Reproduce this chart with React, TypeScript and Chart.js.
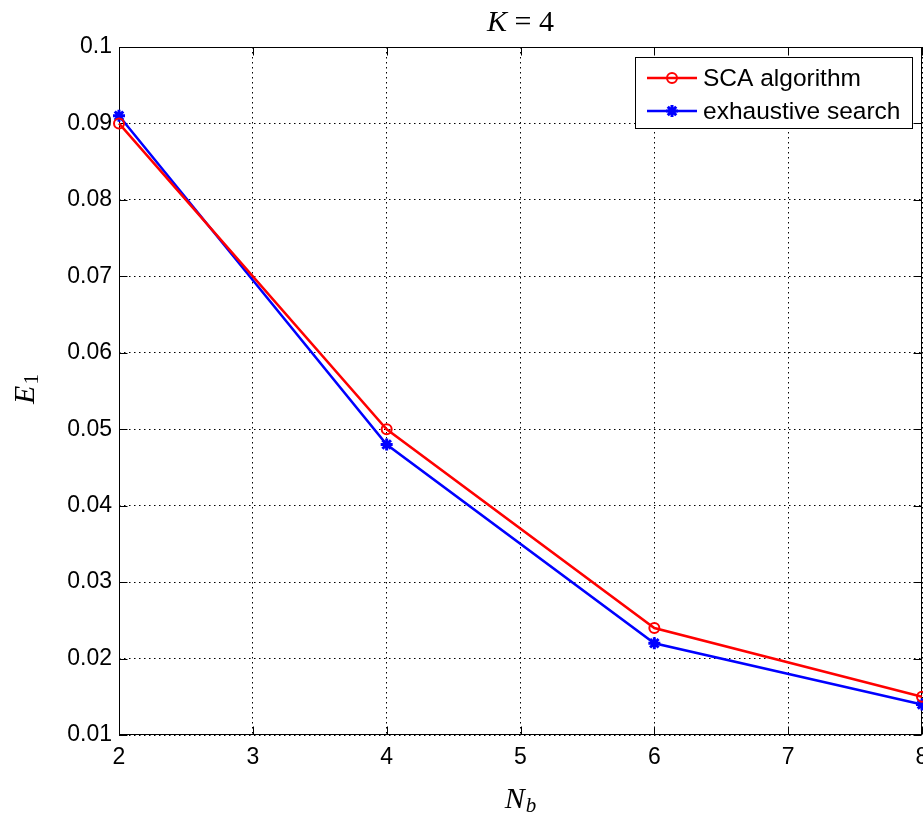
import { useEffect, useRef } from "react";
import { Chart, registerables } from "chart.js";

Chart.register(...registerables);

const xValues = [2, 4, 6, 8];
const scaValues = [0.09, 0.05, 0.024, 0.015];
const exhaustiveValues = [0.091, 0.048, 0.022, 0.014];
const xTicks = [2, 3, 4, 5, 6, 7, 8];
const yTicks = [0.01, 0.02, 0.03, 0.04, 0.05, 0.06, 0.07, 0.08, 0.09, 0.1];
const seriesLabels = ["SCA algorithm", "exhaustive search"];
const seriesColors = ["#ff0000", "#0000ff"];
const seriesMarkers = ["circle", "star"];

const SANS = "'Liberation Sans', Arial, sans-serif";
const SERIF = "'Liberation Serif', 'Times New Roman', serif";

function drawStar(ctx: CanvasRenderingContext2D, x: number, y: number, r: number) {
  ctx.beginPath();
  for (let i = 0; i < 4; i++) {
    const a = (i * Math.PI) / 4;
    ctx.moveTo(x + Math.cos(a) * r, y + Math.sin(a) * r);
    ctx.lineTo(x - Math.cos(a) * r, y - Math.sin(a) * r);
  }
  ctx.stroke();
}

const decorPlugin = {
  id: "decor",
  beforeDatasetsDraw(chart: any) {
    const { ctx, chartArea: a, scales } = chart;
    ctx.save();
    ctx.strokeStyle = "#000";
    ctx.lineWidth = 1;
    ctx.setLineDash([]);
    const L = Math.round(a.left) + 0.5;
    const R = Math.round(a.right) - 0.5;
    const T = Math.round(a.top) + 0.5;
    const B = Math.round(a.bottom) - 0.5;
    ctx.strokeRect(L, T, R - L, B - T);
    const tl = 8;
    ctx.beginPath();
    xTicks.forEach((v) => {
      const px = Math.round(scales.x.getPixelForValue(v)) + 0.5;
      ctx.moveTo(px, B);
      ctx.lineTo(px, B - tl);
      ctx.moveTo(px, T);
      ctx.lineTo(px, T + tl);
    });
    yTicks.forEach((v) => {
      const py = Math.round(scales.y.getPixelForValue(v)) + 0.5;
      ctx.moveTo(L, py);
      ctx.lineTo(L + tl, py);
      ctx.moveTo(R, py);
      ctx.lineTo(R - tl, py);
    });
    ctx.stroke();
    ctx.restore();
  },
  afterDatasetsDraw(chart: any) {
    const { ctx, chartArea: a } = chart;
    ctx.save();
    // Title: K = 4
    ctx.fillStyle = "#000";
    ctx.textBaseline = "middle";
    const cx = (a.left + a.right) / 2;
    ctx.font = `italic 30px ${SERIF}`;
    const wK = ctx.measureText("K").width;
    ctx.font = `30px ${SERIF}`;
    const wRest = ctx.measureText(" = 4").width;
    let x0 = cx - (wK + wRest) / 2;
    ctx.textAlign = "left";
    ctx.font = `italic 30px ${SERIF}`;
    ctx.fillText("K", x0, 23);
    ctx.font = `30px ${SERIF}`;
    ctx.fillText(" = 4", x0 + wK, 23);

    // X label N_b
    ctx.font = `italic 30px ${SERIF}`;
    const wN = ctx.measureText("N").width;
    ctx.font = `italic 21px ${SERIF}`;
    const wb = ctx.measureText("b").width;
    x0 = cx - (wN + wb + 1) / 2;
    ctx.font = `italic 30px ${SERIF}`;
    ctx.fillText("N", x0, 800);
    ctx.font = `italic 21px ${SERIF}`;
    ctx.fillText("b", x0 + wN + 1, 806);

    // Y label E_1
    ctx.save();
    ctx.translate(26, 389);
    ctx.rotate(-Math.PI / 2);
    ctx.font = `italic 30px ${SERIF}`;
    const wE = ctx.measureText("E").width;
    ctx.font = `21px ${SERIF}`;
    const w1 = ctx.measureText("1").width;
    const y0 = -(wE + w1 + 1) / 2;
    ctx.font = `italic 30px ${SERIF}`;
    ctx.fillText("E", y0, 0);
    ctx.font = `21px ${SERIF}`;
    ctx.fillText("1", y0 + wE + 1, 6);
    ctx.restore();

    // Legend
    const bx = 635.5, by = 57.5, bw = 277, bh = 71;
    ctx.fillStyle = "#fff";
    ctx.fillRect(bx, by, bw, bh);
    ctx.strokeStyle = "#000";
    ctx.lineWidth = 1;
    ctx.strokeRect(bx, by, bw, bh);
    const rows = [78, 111];
    seriesLabels.forEach((label, i) => {
      const ry = rows[i];
      ctx.strokeStyle = seriesColors[i];
      ctx.lineWidth = 2.5;
      ctx.beginPath();
      ctx.moveTo(647, ry);
      ctx.lineTo(697, ry);
      ctx.stroke();
      if (seriesMarkers[i] === "circle") {
        ctx.lineWidth = 2;
        ctx.beginPath();
        ctx.arc(672, ry, 5, 0, Math.PI * 2);
        ctx.stroke();
      } else {
        ctx.lineWidth = 3;
        drawStar(ctx, 672, ry, 6);
      }
      ctx.fillStyle = "#000";
      ctx.font = `24.5px ${SANS}`;
      ctx.textAlign = "left";
      ctx.textBaseline = "middle";
      ctx.fillText(label, 703, ry + 1);
    });
    ctx.restore();
  },
};

export default function App() {
  const ref = useRef<HTMLCanvasElement>(null);
  useEffect(() => {
    if (!ref.current) return;
    const chart = new Chart(ref.current, {
      type: "line",
      data: {
        datasets: [
          {
            label: seriesLabels[0],
            data: xValues.map((x, i) => ({ x, y: scaValues[i] })),
            borderColor: seriesColors[0],
            borderWidth: 2.5,
            pointStyle: "circle",
            pointRadius: 5,
            pointBorderWidth: 2,
            pointBorderColor: seriesColors[0],
            pointBackgroundColor: "rgba(0,0,0,0)",
            tension: 0,
            clip: false as any,
          },
          {
            label: seriesLabels[1],
            data: xValues.map((x, i) => ({ x, y: exhaustiveValues[i] })),
            borderColor: seriesColors[1],
            borderWidth: 2.5,
            pointStyle: "star",
            pointRadius: 6,
            pointBorderWidth: 3,
            pointBorderColor: seriesColors[1],
            pointBackgroundColor: seriesColors[1],
            tension: 0,
            clip: false as any,
          },
        ],
      },
      options: {
        responsive: false,
        animation: false,
        events: [],
        layout: { padding: { top: 47, right: 2, bottom: 0, left: 0 } },
        plugins: {
          legend: { display: false },
          title: { display: false },
          tooltip: { enabled: false },
        },
        scales: {
          x: {
            type: "linear",
            min: 2,
            max: 8,
            afterBuildTicks: (s: any) => {
              s.ticks = xTicks.map((v) => ({ value: v }));
            },
            afterFit: (s: any) => {
              s.height = 82;
              s.paddingLeft = 0;
              s.paddingRight = 0;
            },
            ticks: {
              color: "#000",
              font: { family: SANS, size: 23 },
              padding: 9,
              maxRotation: 0,
              autoSkip: false,
              callback: (v: any) => String(v),
            },
            grid: { color: "#000", lineWidth: 1, drawTicks: false },
            border: { display: false, dash: [1.5, 3.5] },
          },
          y: {
            type: "linear",
            min: 0.01,
            max: 0.1,
            afterBuildTicks: (s: any) => {
              s.ticks = yTicks.map((v) => ({ value: v }));
            },
            afterFit: (s: any) => {
              s.width = 119;
              s.paddingTop = 0;
              s.paddingBottom = 0;
            },
            ticks: {
              color: "#000",
              font: { family: SANS, size: 23 },
              padding: 7,
              autoSkip: false,
              callback: (v: any) => String(Number(Number(v).toFixed(2))),
            },
            grid: { color: "#000", lineWidth: 1, drawTicks: false },
            border: { display: false, dash: [1.5, 3.5] },
          },
        },
      },
      plugins: [decorPlugin],
    });
    return () => chart.destroy();
  }, []);
  return (
    <div style={{ position: "fixed", left: 0, top: 0, width: 923, height: 817, background: "#fff", overflow: "hidden" }}>
      <canvas ref={ref} width={931} height={817} style={{ display: "block" }} />
    </div>
  );
}
